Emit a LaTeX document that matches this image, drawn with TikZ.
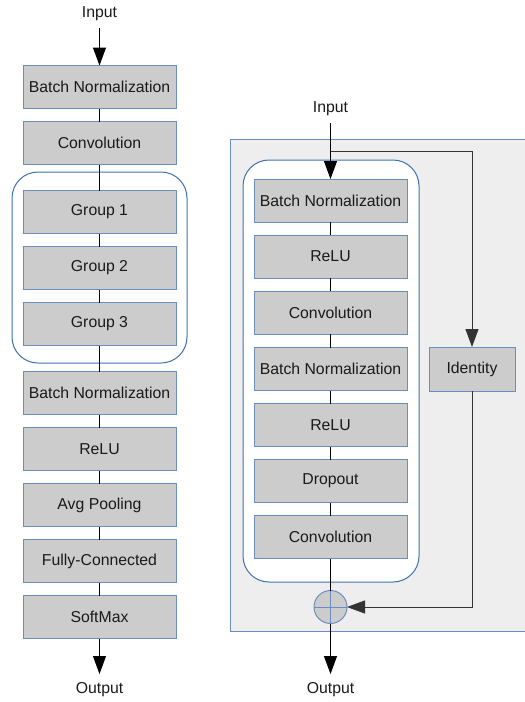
\documentclass[tikz,border=0pt]{standalone}
\usepackage{fontspec}
\setmainfont{Liberation Sans}
\usetikzlibrary{arrows.meta}
\definecolor{boxfill}{HTML}{CCCCCC}
\definecolor{boxline}{HTML}{6C8EBF}
\definecolor{grpline}{HTML}{3F72AF}
\definecolor{bgfill}{HTML}{EEEEEE}
\definecolor{txt}{HTML}{1A1A1A}
\definecolor{skipcol}{HTML}{333333}
\begin{document}
\begin{tikzpicture}[x=1pt,y=-1pt,
  layer/.style={draw=boxline,fill=boxfill,line width=1pt,minimum width=153pt,minimum height=43pt,inner sep=0pt,outer sep=0pt,text=txt,font=\fontsize{15.8}{18}\selectfont},
  grpbox/.style={draw=grpline,fill=white,rounded corners=26pt,line width=1pt,inner sep=0pt,outer sep=0pt},
  lbl/.style={text=txt,inner sep=0pt,font=\fontsize{15.8}{18}\selectfont},
  conn/.style={line width=1pt,draw=black},
  arr/.style={conn,-{Triangle[width=13pt,length=18pt]}},
  sumnode/.style={circle,draw=boxline,fill=boxfill,line width=1pt,minimum size=33pt,inner sep=0pt,outer sep=0pt}
]
\useasboundingbox (0,0) rectangle (525,702);
\fill[white] (0,0) rectangle (525,702);
% right background panel
\begin{scope}
\clip (0,0) rectangle (525,702);
\draw[draw=boxline,fill=bgfill,line width=1pt] (230,139) rectangle (540,631);
\end{scope}

% ---------- left column ----------
\node[grpbox,fill=none,minimum width=175pt,minimum height=191pt] (lgrp) at (99.5,267.5) {};
\node[lbl] (lin) at (99.5,14) {Input};
\node[layer] (l1) at (99.5,87) {Batch Normalization};
\node[layer] (l2) at (99.5,143) {Convolution};
\node[layer] (l3) at (99.5,212) {Group 1};
\node[layer] (l4) at (99.5,268) {Group 2};
\node[layer] (l5) at (99.5,324) {Group 3};
\node[layer] (l6) at (99.5,393) {Batch Normalization};
\node[layer] (l7) at (99.5,449) {ReLU};
\node[layer] (l8) at (99.5,505) {Avg Pooling};
\node[layer] (l9) at (99.5,561) {Fully-Connected};
\node[layer] (l10) at (99.5,617) {SoftMax};
\node[lbl] (lout) at (99.5,690) {Output};
\coordinate (lintop) at (99.5,28);
\coordinate (loutend) at (99.5,674);
\draw[arr] (lintop) -- (l1.north);
\foreach \a/\b in {l1/l2,l2/l3,l3/l4,l4/l5,l5/l6,l6/l7,l7/l8,l8/l9,l9/l10}
  \draw[conn] (\a.south) -- (\b.north);
\draw[arr] (l10.south) -- (loutend);

% ---------- right block ----------
\node[grpbox,minimum width=176pt,minimum height=422pt] (rgrp) at (331,371) {};
\node[lbl] (rin) at (330.5,109) {Input};
\node[layer] (r1) at (330.5,200.5) {Batch Normalization};
\node[layer] (r2) at (330.5,256.5) {ReLU};
\node[layer] (r3) at (330.5,312.5) {Convolution};
\node[layer] (r4) at (330.5,369) {Batch Normalization};
\node[layer] (r5) at (330.5,425) {ReLU};
\node[layer] (r6) at (330.5,481) {Dropout};
\node[layer] (r7) at (330.5,537) {Convolution};
\node[layer,minimum width=86pt,minimum height=44pt] (id) at (472,369) {Identity};
\node[sumnode] (plus) at (330.5,607) {};
\draw[boxline,line width=1pt] (plus.west) -- (plus.east);
\draw[boxline,line width=1pt] (plus.north) -- (plus.south);
\node[lbl] (rout) at (330.5,690) {Output};
\coordinate (rintop) at (330.5,123);
\coordinate (split) at (330.5,151);
\coordinate (routend) at (330.5,674);

\draw[arr] (rintop) -- (r1.north);
\draw[conn,draw=skipcol,-{Triangle[width=13pt,length=18pt]}] (split) -| (id.north);
\draw[conn,draw=skipcol,-{Triangle[width=13pt,length=18pt]}] (id.south) |- (plus.east);
\foreach \a/\b in {r1/r2,r2/r3,r3/r4,r4/r5,r5/r6,r6/r7}
  \draw[conn] (\a.south) -- (\b.north);
\draw[conn] (r7.south) -- (plus.north);
\draw[arr] (plus.south) -- (routend);
\end{tikzpicture}
\end{document}
